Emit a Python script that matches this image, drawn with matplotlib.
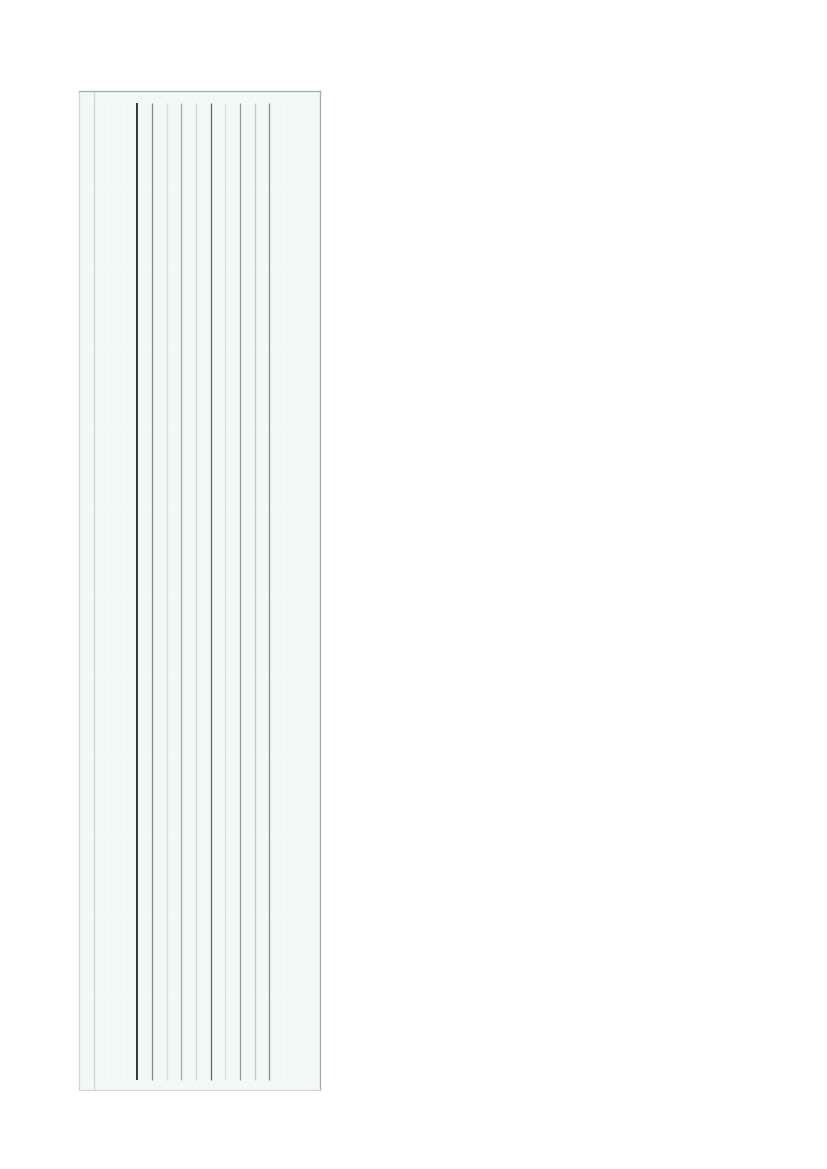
import numpy as np
import matplotlib.pyplot as plt

# ============================================================
# DATA
# ============================================================
positions = [0, 1, 2, 3, 4, 5, 6, 7, 8, 9]
# grey level of each rule (0 = black, 1 = white)
grey_levels = [0.0, 0.53, 0.86, 0.66, 0.82, 0.40, 0.88, 0.60, 0.78, 0.55]
line_start = [0, 0, 0, 0, 0, 0, 0, 0, 0, 0]
line_end = [12, 12, 12, 12, 12, 12, 12, 12, 12, 12]
y_ticks = list(range(0, 13))
x_grid = [-3, -2, -1, 10, 11.7]

BG = '#f0f9f6'

fig = plt.figure(figsize=(8.27, 11.69), dpi=100)
W, H = 827, 1169
left, right, top, bottom = 78.5, 320, 90.5, 1090
ax = fig.add_axes([left / W, 1 - bottom / H, (right - left) / W, (bottom - top) / H])
ax.set_facecolor(BG)

# pixel mapping: x = 137.3 + 14.67*i ; y = 1080 - 81.4*v
ax.set_xlim((left - 137.3) / 14.67, (right - 137.3) / 14.67)
ax.set_ylim((1080 - bottom) / 81.4, (1080 - top) / 81.4)

# very faint white grid
for yv in y_ticks:
    ax.axhline(yv, color='white', linewidth=0.6, alpha=0.45, zorder=1)
for xv in positions + x_grid:
    ax.axvline(xv, color='white', linewidth=0.6, alpha=0.45, zorder=1)

# light grey rule near the left edge
ax.axvline(-2.92, color='#d0d4d3', linewidth=0.9, zorder=2)

for x, g, y0, y1 in zip(positions, grey_levels, line_start, line_end):
    lw = 1.1 if g == 0 else 0.9
    ax.vlines(x, y0, y1, colors=str(g), linewidth=lw, zorder=3)

ax.set_xticks([])
ax.set_yticks([])
ax.spines['top'].set_color('#a8a8a8')
ax.spines['right'].set_color('#a8a8a8')
ax.spines['left'].set_color('#d4d4d4')
ax.spines['bottom'].set_color('#d4d4d4')
for spine in ax.spines.values():
    spine.set_linewidth(0.9)

plt.savefig('out.png', dpi=100)
